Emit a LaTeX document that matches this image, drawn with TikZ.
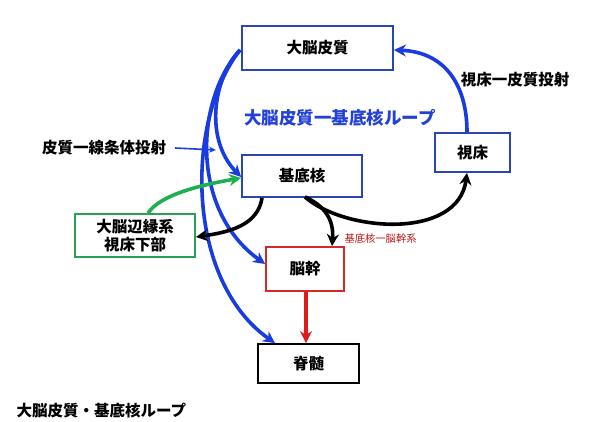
\documentclass[tikz,border=0pt]{standalone}
\usepackage{fontspec}
\setmainfont{Noto Sans CJK JP}
\usetikzlibrary{arrows.meta}
\definecolor{boxblue}{RGB}{40,70,180}
\definecolor{arrblue}{RGB}{25,60,225}
\definecolor{txtblue}{RGB}{35,65,215}
\definecolor{boxgreen}{RGB}{40,160,90}
\definecolor{arrgreen}{RGB}{30,175,80}
\definecolor{boxred}{RGB}{215,40,40}
\definecolor{arrred}{RGB}{225,25,25}
\definecolor{lblred}{RGB}{190,20,20}
\begin{document}
\begin{tikzpicture}[x=1pt,y=-1pt,
  bx/.style={draw, line width=1.8pt, inner sep=0pt, font=\fontsize{15.5}{18}\selectfont\bfseries, align=center},
  thickarr/.style={line width=3.6pt, -{Stealth[length=12pt,width=12pt]}},
  lbl/.style={font=\fontsize{15.5}{17}\selectfont\bfseries}
]
\useasboundingbox[fill=white] (0,0) rectangle (610,422);
% boxes
\node[bx, draw=boxblue, minimum width=151pt, minimum height=44pt] (cortex) at (317.5,48) {大脳皮質};
\node[bx, draw=boxblue, minimum width=120pt, minimum height=42pt] (bg) at (302,176) {基底核};
\node[bx, draw=boxblue, minimum width=75pt, minimum height=39pt] (thal) at (472.5,152.5) {視床};
\node[bx, draw=boxgreen, minimum width=120pt, minimum height=43pt] (limb) at (135,235.5) {大脳辺縁系\\視床下部};
\node[bx, draw=boxred, minimum width=78pt, minimum height=44pt] (stem) at (305,269) {脳幹};
\node[bx, draw=black, minimum width=101pt, minimum height=39pt] (cord) at (308.5,363.5) {脊髄};
% labels
\node[font=\fontsize{17.5}{19}\selectfont\bfseries, text=txtblue] (title) at (340,118) {大脳皮質一基底核ループ};
\node[lbl] (cs) at (104,148) {皮質一線条体投射};
\node[lbl] (tc) at (515,80) {視床一皮質投射};
\node[font=\fontsize{10.3}{12}\selectfont, text=lblred, anchor=west] (bs) at (341,239) {基底核一脳幹系};
\node[lbl, anchor=west] (cap) at (13,411) {大脳皮質・基底核ループ};
% coordinates
\coordinate (cl) at (240,50);
\coordinate (bgb) at (305,197);
% blue arrows
\draw[thickarr, arrblue] (thal.north -| 467,0) .. controls (467,85) and (445,52) .. (cortex.east |- 0,50);
\draw[thickarr, arrblue] (cl) .. controls (212,80) and (205,140) .. (bg.west |- 0,177);
\draw[thickarr, arrblue] (cl) .. controls (195,100) and (190,210) .. (stem.west |- 0,264);
\draw[thickarr, arrblue] (cl) .. controls (185,120) and (185,280) .. (cord.north -| 275,0);
\coordinate (csa) at (175,148);
\coordinate (csb) at (216,150);
\draw[line width=1.6pt, arrblue, -{Stealth[length=7pt,width=6pt]}] (csa) -- (csb);
% green
\draw[thickarr, arrgreen] (limb.north -| 148,0) .. controls (160,195) and (200,185) .. (bg.west |- 0,178);
% black
\draw[thickarr, black] (bg.south -| 262,0) .. controls (258,225) and (230,232) .. (limb.east |- 0,237);
\draw[thickarr, black] (bgb) .. controls (325,206) and (334,220) .. (stem.north -| 332,0);
\draw[thickarr, black] (bgb) .. controls (345,232) and (458,240) .. (thal.south -| 467,0);
% red
\draw[thickarr, arrred] (stem.south -| 306,0) -- (cord.north -| 306,0);
\end{tikzpicture}
\end{document}
